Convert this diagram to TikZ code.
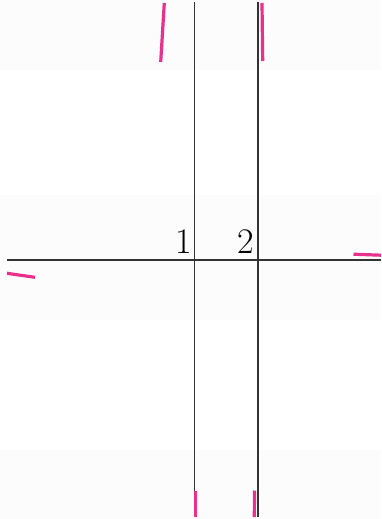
\documentclass[tikz,border=0pt]{standalone}
\begin{document}
\begin{tikzpicture}[x=1pt,y=-1pt,
  axisline/.style={draw=black!80, line width=1.6pt},
  tick/.style={draw={rgb,255:red,232;green,48;blue,140}, line width=3.2pt},
  lbl/.style={inner sep=0pt, font=\fontsize{36}{40}\selectfont}]
\useasboundingbox (0,0) rectangle (381,519);
\fill[black!1] (0,0) rectangle (381,70);
\fill[black!1] (0,195) rectangle (381,320);
\fill[black!1] (0,450) rectangle (381,519);
\coordinate (v1t) at (194.3,2);
\coordinate (v1b) at (194.3,517);
\coordinate (v2t) at (257.7,2);
\coordinate (v2b) at (257.7,517);
\coordinate (hl) at (7,260);
\coordinate (hr) at (381,260);
\draw[axisline] (v1t) -- (v1b);
\draw[axisline] (v2t) -- (v2b);
\draw[axisline] (hl) -- (hr);
\node[lbl, anchor=base east] (l1) at (192.5,253) {1};
\node[lbl, anchor=base east] (l2) at (254,253) {2};
\draw[tick] (164.3,3) -- (160.7,62);
\draw[tick] (262,3) -- (262.7,61);
\draw[tick] (7,273.3) -- (35,277.3);
\draw[tick] (353.5,254.2) -- (381,255.2);
\draw[tick] (195.8,490.5) -- (195.8,517);
\draw[tick] (254.5,490.5) -- (254.3,517);
\end{tikzpicture}
\end{document}
